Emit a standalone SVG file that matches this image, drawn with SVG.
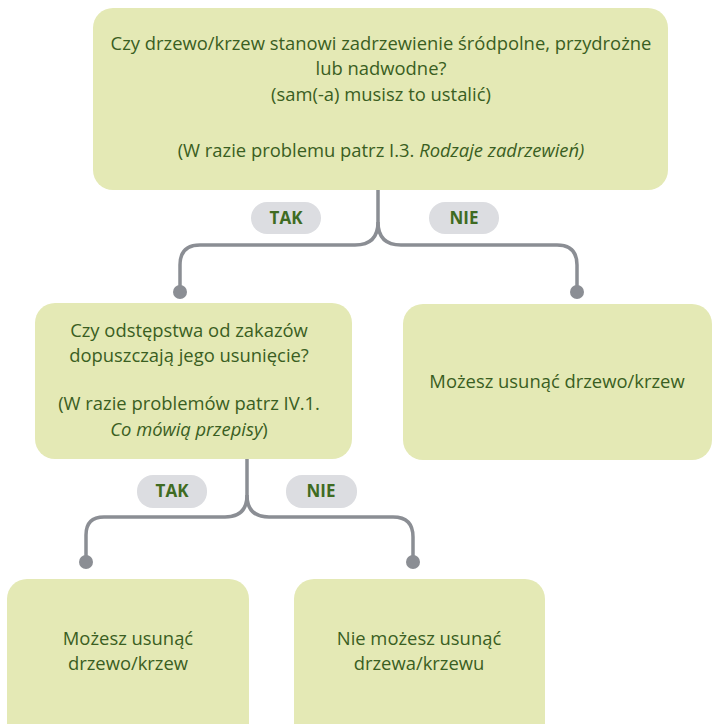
<svg xmlns="http://www.w3.org/2000/svg" width="713" height="724" viewBox="0 0 713 724">
<style>
.box{fill:#e4e9b5;}
.t{font-family:"Open Sans","Liberation Sans",sans-serif;font-size:18.4px;fill:#3a5e22;text-anchor:middle;}
.pill{fill:#dcdde1;}
.pt{font-family:"Open Sans","Liberation Sans",sans-serif;font-size:17px;font-weight:bold;fill:#3f6b22;text-anchor:middle;}
.c{fill:none;stroke:#8b8e94;stroke-width:3.5;}
.dot{fill:#8b8e94;}
.i{font-style:italic;}
</style>
<rect width="713" height="724" fill="#ffffff"/>
<g id="connectors">
<path class="c" d="M378,190 V222 Q378,245 355,245 H200 Q180,245 180,265 V292"/>
<path class="c" d="M378,222 Q378,245 401,245 H557 Q577,245 577,265 V292"/>
<circle class="dot" cx="180" cy="292" r="7"/>
<circle class="dot" cx="577" cy="292" r="7"/>
<path class="c" d="M247,459 V495 Q247,517 225,517 H104 Q86,517 86,535 V562"/>
<path class="c" d="M247,495 Q247,517 269,517 H393 Q413,517 413,537 V562"/>
<circle class="dot" cx="86" cy="562" r="7"/>
<circle class="dot" cx="413" cy="562" r="7"/>
</g>
<g id="label-tak-1">
<rect class="pill" x="251" y="202" width="70" height="32" rx="16"/>
<text class="pt" x="286" y="224">TAK</text>
</g>
<g id="label-nie-1">
<rect class="pill" x="429" y="202" width="70" height="32" rx="16"/>
<text class="pt" x="464" y="224">NIE</text>
</g>
<g id="label-tak-2">
<rect class="pill" x="137" y="475" width="70" height="33" rx="16"/>
<text class="pt" x="172" y="497">TAK</text>
</g>
<g id="label-nie-2">
<rect class="pill" x="286" y="475" width="71" height="33" rx="16"/>
<text class="pt" x="321" y="497">NIE</text>
</g>
<g id="node-q1">
<rect class="box" x="93" y="8" width="575" height="182" rx="20"/>
<text class="t" x="381" y="50">Czy drzewo/krzew stanowi zadrzewienie śródpolne, przydrożne</text>
<text class="t" x="381" y="75">lub nadwodne?</text>
<text class="t" x="381" y="101">(sam(-a) musisz to ustalić)</text>
<text class="t" x="381" y="157">(W razie problemu patrz I.3. <tspan class="i">Rodzaje zadrzewień)</tspan></text>
</g>
<g id="node-q2">
<rect class="box" x="35" y="303" width="317" height="156" rx="20"/>
<text class="t" x="189" y="337">Czy odstępstwa od zakazów</text>
<text class="t" x="189" y="362">dopuszczają jego usunięcie?</text>
<text class="t" x="189" y="410">(W razie problemów patrz IV.1.</text>
<text class="t" x="189" y="436"><tspan class="i">Co mówią przepisy</tspan>)</text>
</g>
<g id="node-yes1">
<rect class="box" x="403" y="304" width="309" height="156" rx="20"/>
<text class="t" x="557" y="388">Możesz usunąć drzewo/krzew</text>
</g>
<g id="node-yes2">
<rect class="box" x="7" y="579" width="242" height="165" rx="20"/>
<text class="t" x="128" y="645">Możesz usunąć</text>
<text class="t" x="128" y="670">drzewo/krzew</text>
</g>
<g id="node-no2">
<rect class="box" x="294" y="579" width="251" height="165" rx="20"/>
<text class="t" x="419" y="645">Nie możesz usunąć</text>
<text class="t" x="419" y="670">drzewa/krzewu</text>
</g>
</svg>
